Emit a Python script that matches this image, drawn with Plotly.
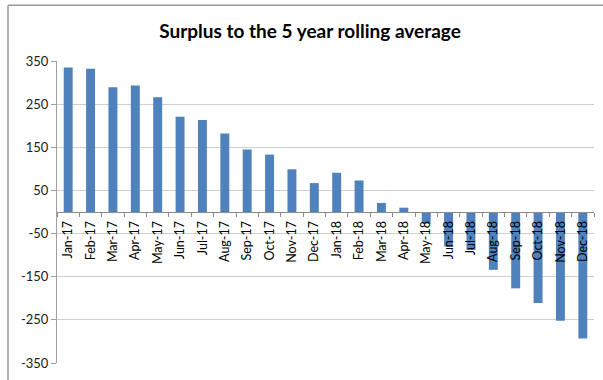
import plotly.graph_objects as go

months = ["Jan-17", "Feb-17", "Mar-17", "Apr-17", "May-17", "Jun-17", "Jul-17", "Aug-17",
          "Sep-17", "Oct-17", "Nov-17", "Dec-17", "Jan-18", "Feb-18", "Mar-18", "Apr-18",
          "May-18", "Jun-18", "Jul-18", "Aug-18", "Sep-18", "Oct-18", "Nov-18", "Dec-18"]
surplus = [335, 332, 289, 293, 266, 221, 213, 182, 145, 133, 99, 67,
           91, 73, 21, 10, -27, -80, -88, -134, -177, -211, -252, -293]
y_ticks = [350, 250, 150, 50, -50, -150, -250, -350]

L, R, T, B = 57, 9, 61, 15
W, H = 603, 380
pw, ph = W - L - R, H - T - B

fig = go.Figure(go.Bar(x=months, y=surplus, marker_color="#4F81BD", marker_line_width=0))

fig.update_layout(
    width=W, height=H,
    margin=dict(l=L, r=R, t=T, b=B, pad=0),
    paper_bgcolor="white", plot_bgcolor="white",
    bargap=0.6,
    showlegend=False,
    font=dict(family="Lato, Carlito, Calibri, sans-serif", color="#303030", size=11),
    title=dict(text="<b>Surplus to the 5 year rolling average</b>",
               x=(310 - L) / pw, xref="paper", xanchor="center",
               y=1 - 31 / H, yref="container", yanchor="middle",
               font=dict(size=19, color="#000000")),
)

fig.update_xaxes(
    type="category",
    anchor="free", position=0.5,
    showline=True, linecolor="#8C8C8C", linewidth=1,
    ticks="outside", tickson="boundaries", ticklen=4, tickcolor="#8C8C8C",
    tickangle=-90, tickfont=dict(size=12.5, color="#000000"),
    ticklabelstandoff=3,
    showgrid=False,
)
fig.update_yaxes(
    range=[-350, 350],
    tickvals=y_ticks,
    ticktext=[str(v) for v in y_ticks],
    showline=True, linecolor="#A0A0A0", linewidth=1,
    ticks="outside", ticklen=5, tickcolor="#A0A0A0",
    showgrid=True, gridcolor="#D0D0D0", gridwidth=1,
    zeroline=False,
    tickfont=dict(size=13, color="#202020"),
)

# outer chart frame (Excel chart border), partially cropped by the image
x_left = (8 - L) / pw
y_top = (H - B - 5) / ph
fig.add_shape(type="line", xref="paper", yref="paper",
              x0=x_left, x1=x_left, y0=-B / ph - 0.1, y1=y_top,
              line=dict(color="#9A9A9A", width=1.5))
fig.add_shape(type="line", xref="paper", yref="paper",
              x0=x_left, x1=(W - L) / pw + 0.1, y0=y_top, y1=y_top,
              line=dict(color="#9A9A9A", width=1.5))

fig.write_html("out.html", config={"displayModeBar": False})
